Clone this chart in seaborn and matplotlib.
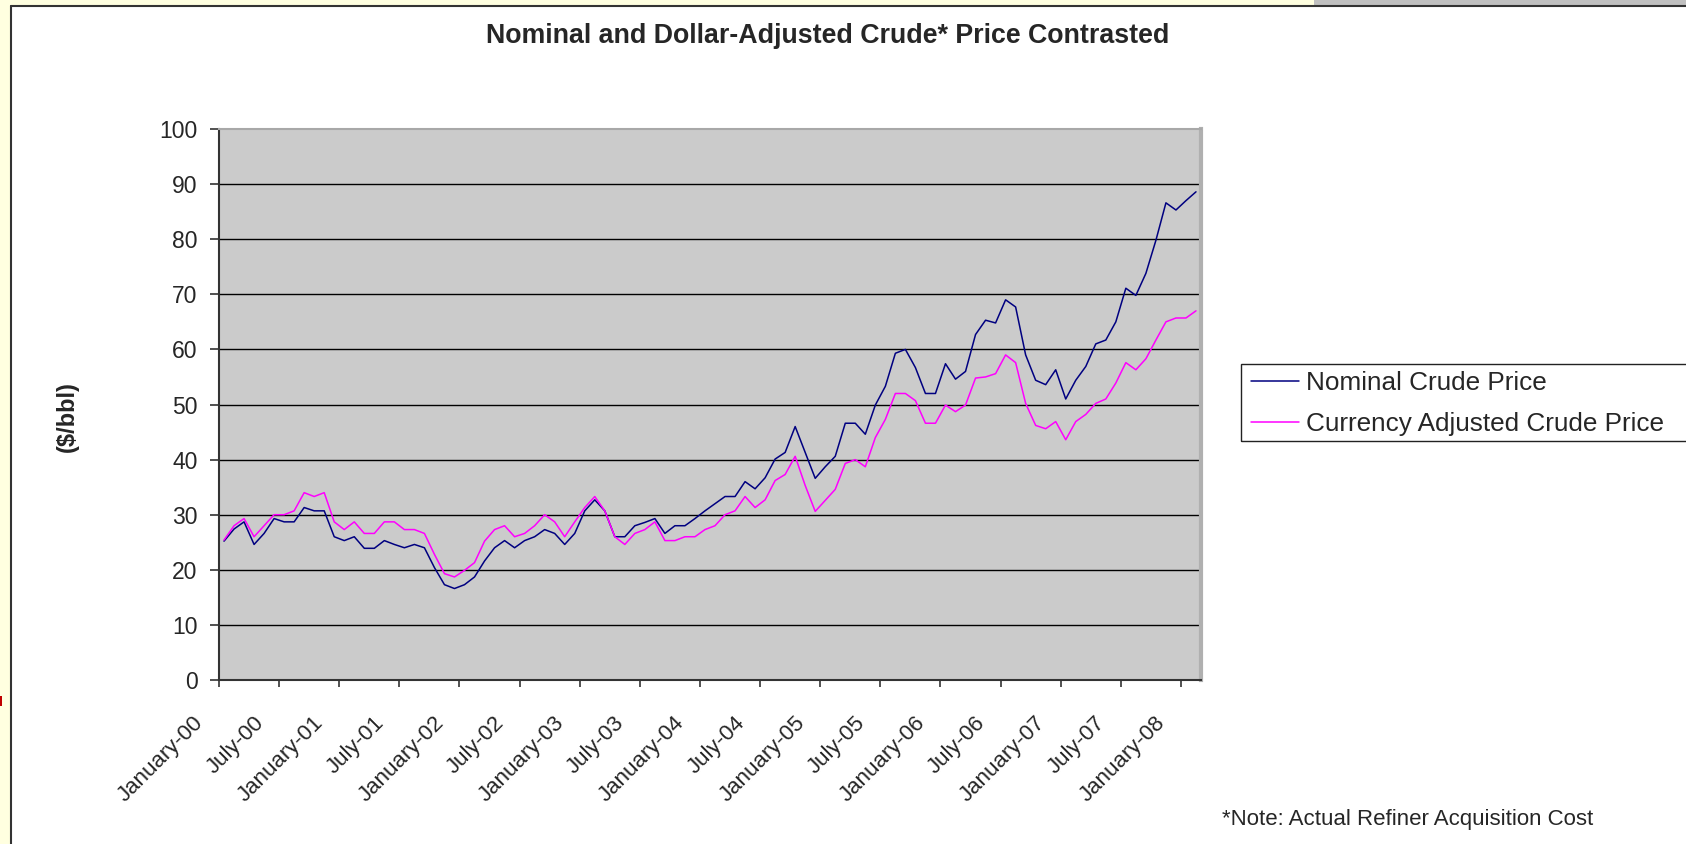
import matplotlib
matplotlib.use("Agg")
import matplotlib.pyplot as plt
import matplotlib.transforms as mtransforms
from matplotlib.patches import Rectangle
from matplotlib.lines import Line2D
import seaborn as sns
import numpy as np
import pandas as pd

# monthly values, January 2000 .. February 2008 ($/bbl)
nominal = [25.2, 27.4, 28.7, 24.6, 26.6, 29.3, 28.7, 28.7, 31.3, 30.7, 30.7, 26.0,
           25.3, 26.0, 23.9, 23.9, 25.3, 24.6, 24.0, 24.6, 24.0, 20.4, 17.3, 16.6,
           17.3, 18.7, 21.6, 24.0, 25.3, 24.0, 25.3, 26.0, 27.3, 26.6, 24.6, 26.6,
           30.7, 32.7, 30.7, 26.0, 26.0, 28.0, 28.6, 29.3, 26.6, 28.0, 28.0, 29.3,
           30.7, 32.0, 33.3, 33.3, 36.0, 34.7, 36.7, 40.1, 41.3, 46.0, 41.3, 36.6,
           38.7, 40.6, 46.6, 46.6, 44.6, 49.9, 53.3, 59.3, 60.0, 56.7, 52.0, 52.0,
           57.4, 54.6, 56.0, 62.7, 65.3, 64.8, 69.0, 67.7, 59.0, 54.4, 53.6, 56.3,
           51.0, 54.4, 56.9, 61.0, 61.7, 65.0, 71.1, 69.8, 73.8, 79.8, 86.6, 85.3,
           87.0, 88.6]
adjusted = [25.4, 28.0, 29.3, 26.0, 28.0, 30.0, 30.0, 30.7, 34.0, 33.3, 34.0, 28.7,
            27.3, 28.7, 26.6, 26.6, 28.7, 28.7, 27.3, 27.3, 26.6, 22.8, 19.3, 18.7,
            19.9, 21.3, 25.2, 27.3, 28.0, 26.0, 26.6, 28.0, 30.0, 28.7, 26.0, 28.7,
            31.3, 33.3, 30.7, 26.0, 24.6, 26.6, 27.3, 28.7, 25.3, 25.3, 26.0, 26.0,
            27.3, 28.0, 30.0, 30.7, 33.3, 31.3, 32.7, 36.2, 37.3, 40.6, 35.3, 30.6,
            32.6, 34.6, 39.3, 40.0, 38.7, 44.0, 47.3, 52.0, 52.0, 50.7, 46.6, 46.6,
            49.9, 48.7, 49.9, 54.8, 55.0, 55.6, 59.0, 57.6, 50.2, 46.2, 45.6, 46.9,
            43.6, 46.9, 48.2, 50.2, 51.0, 53.9, 57.6, 56.3, 58.3, 61.7, 65.0, 65.7,
            65.7, 67.0]
tick_labels = ["January-00", "July-00", "January-01", "July-01", "January-02", "July-02",
               "January-03", "July-03", "January-04", "July-04", "January-05", "July-05",
               "January-06", "July-06", "January-07", "July-07", "January-08"]
series_names = ["Nominal Crude Price", "Currency Adjusted Crude Price"]
series_colors = ["#000080", "#FF00FF"]

months = np.arange(len(nominal))
df = pd.DataFrame({
    "month": np.concatenate([months, months]),
    "price": nominal + adjusted,
    "series": [series_names[0]] * len(nominal) + [series_names[1]] * len(adjusted),
})

sns.set_style("white")
plt.rcParams["font.family"] = ["Liberation Sans", "DejaVu Sans"]

W, H = 1686, 844
fig = plt.figure(figsize=(W / 100, H / 100), dpi=100)
ax = fig.add_axes([219 / W, 1 - 680 / H, (1201 - 219) / W, (680 - 129) / H])
ax.set_facecolor("#CBCBCB")

sns.lineplot(data=df, x="month", y="price", hue="series",
             palette=dict(zip(series_names, series_colors)),
             linewidth=1.1, ax=ax, legend=False)

ax.set_xlim(-0.5, len(nominal) - 0.5)
ax.set_ylim(0, 100)
ax.set_yticks(range(0, 101, 10))
ax.yaxis.grid(True, color="black", linewidth=1.0)
ax.get_ygridlines()[-1].set_visible(False)
ax.set_axisbelow(True)
ax.set_xlabel("")
ax.set_ylabel("")

ax.set_xticks(np.arange(0, len(nominal), 6) - 0.5)
ax.set_xticklabels(tick_labels, rotation=45, ha="right", va="top", rotation_mode="anchor")
ax.tick_params(axis="x", direction="out", length=5, width=1.2, color="#333333",
               labelsize=16, pad=0, bottom=True)
ax.tick_params(axis="y", direction="out", length=6.5, width=1.2, color="#333333",
               labelsize=16.5, pad=9, left=True)
offset = mtransforms.ScaledTranslation(-26 / 100, -25 / 100, fig.dpi_scale_trans)
for lab in ax.get_xticklabels():
    lab.set_transform(lab.get_transform() + offset)

for side in ["left", "bottom"]:
    ax.spines[side].set_color("#333333")
    ax.spines[side].set_linewidth(1.5)
ax.spines["top"].set_color("#A8A8A8")
ax.spines["top"].set_linewidth(1.5)
ax.spines["right"].set_color("#B0B0B0")
ax.spines["right"].set_linewidth(3)

fig.text(828 / W, 1 - 36 / H, "Nominal and Dollar-Adjusted Crude* Price Contrasted",
         ha="center", va="center", fontsize=19.3, fontweight="bold")
fig.text(67 / W, 1 - 417 / H, "($/bbl)", rotation=90, ha="center", va="center",
         fontsize=17, fontweight="bold")
fig.text(1222 / W, 1 - 820 / H, "*Note: Actual Refiner Acquisition Cost",
         ha="left", va="center", fontsize=16)

# legend
handles = [Line2D([], [], color=c, linewidth=1.1) for c in series_colors]
fig.legend(handles, series_names, loc="upper left",
           bbox_to_anchor=(1230 / W, 1 - 350 / H), frameon=False,
           fontsize=18.8, handlelength=1.84, handletextpad=0.27,
           labelspacing=0.67, borderpad=0.3)
fig.add_artist(Rectangle((1241 / W, 1 - 441 / H), (W + 10 - 1241) / W, 77 / H,
                         transform=fig.transFigure, fill=False,
                         edgecolor="#222222", linewidth=1.0))

# slide frame around the chart
fig.add_artist(Rectangle((0, 0), 10 / W, 1, transform=fig.transFigure,
                         facecolor="#FFFFE0", edgecolor="none"))
fig.add_artist(Rectangle((0, 1 - 5 / H), 1, 5 / H, transform=fig.transFigure,
                         facecolor="#FFFFE0", edgecolor="none"))
fig.add_artist(Rectangle((1314 / W, 1 - 5 / H), (W - 1314) / W, 5 / H,
                         transform=fig.transFigure, facecolor="#C0C0C0", edgecolor="none"))
fig.add_artist(Rectangle((0, 1 - 706 / H), 2 / W, 10 / H, transform=fig.transFigure,
                         facecolor="#C00000", edgecolor="none"))
fig.add_artist(Line2D([11 / W, 11 / W], [0, 1 - 5.5 / H], transform=fig.transFigure,
                      color="#333333", linewidth=1.5))
fig.add_artist(Line2D([11 / W, 1], [1 - 5.5 / H, 1 - 5.5 / H], transform=fig.transFigure,
                      color="#333333", linewidth=1.5))

fig.savefig("out.png", dpi=100)
plt.close(fig)
